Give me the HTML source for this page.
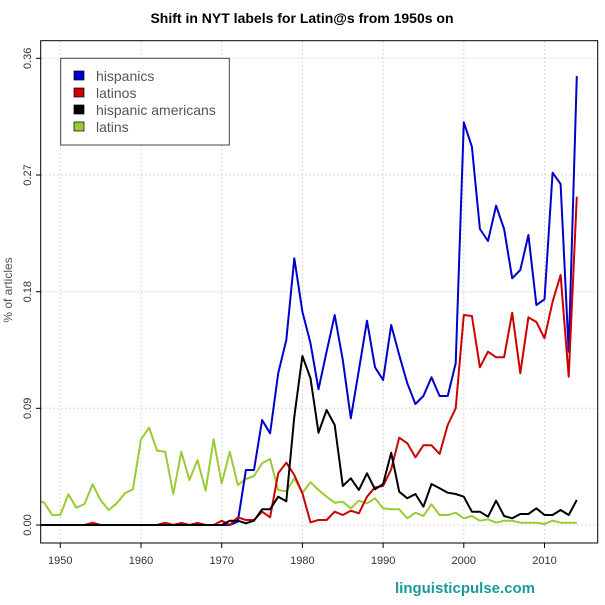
<!DOCTYPE html>
<html><head><meta charset="utf-8"><style>
html,body{margin:0;padding:0;background:#fff;}
svg{display:block;font-family:"Liberation Sans",sans-serif;}
</style></head><body>
<svg id="s" width="605" height="605" viewBox="0 0 605 605">
<rect width="605" height="605" fill="#fff"/>
<text x="302" y="23" text-anchor="middle" font-size="14" font-weight="bold" fill="#000">Shift in NYT labels for Latin@s from 1950s on</text>
<g id="grid" stroke="#d8d8d8" stroke-dasharray="2,2" stroke-width="1"></g>
<defs><clipPath id="c"><rect x="41" y="41" width="556" height="502"/></clipPath></defs>
<g id="lines" clip-path="url(#c)" fill="none" stroke-width="2" stroke-linejoin="round"></g>
<rect x="40.7" y="40.7" width="557" height="502.3" fill="none" stroke="#000" stroke-width="1"/>
<g id="ticks" font-size="11" fill="#333"></g>
<text transform="translate(12,290) rotate(-90)" text-anchor="middle" font-size="12" fill="#555">% of articles</text>
<rect x="60.7" y="58.3" width="168.6" height="86.7" fill="#fff" stroke="#444" stroke-width="1"/>
<rect x="74" y="71" width="10" height="9" fill="#0000cc" stroke="#000" stroke-width="0.7"/>
<rect x="74" y="88" width="10" height="9" fill="#cc0000" stroke="#000" stroke-width="0.7"/>
<rect x="74" y="105" width="10" height="9" fill="#000" stroke="#000" stroke-width="0.7"/>
<rect x="74" y="122" width="10" height="9" fill="#99cc33" stroke="#000" stroke-width="0.7"/>
<g font-size="14" fill="#555">
<text x="96" y="81">hispanics</text>
<text x="96" y="98">latinos</text>
<text x="96" y="115">hispanic americans</text>
<text x="96" y="132">latins</text>
</g>
<text x="465" y="593" text-anchor="middle" font-size="15" font-weight="bold" fill="#1a9a9a">linguisticpulse.com</text>
</svg>
<script>
var ns="http://www.w3.org/2000/svg";
function X(yr){return 221.7+(yr-1970)*8.07;}
function Y(z){return 30+z/3;}
var g=document.getElementById('grid'),t=document.getElementById('ticks'),L=document.getElementById('lines');
function el(p,tag,a,txt){var e=document.createElementNS(ns,tag);for(var k in a)e.setAttribute(k,a[k]);if(txt)e.textContent=txt;p.appendChild(e);return e;}
var yt=[[525,"0.00"],[408.3,"0.09"],[291.7,"0.18"],[175,"0.27"],[58.3,"0.36"]];
yt.forEach(function(v){el(g,'line',{x1:41,x2:597,y1:v[0],y2:v[0]});el(t,'line',{x1:36,x2:40.7,y1:v[0],y2:v[0],stroke:'#000'});
el(t,'text',{transform:'translate(31,'+v[0]+') rotate(-90)','text-anchor':'middle'},v[1]);});
for(var yr=1950;yr<=2010;yr+=10){var x=X(yr);el(g,'line',{x1:x,x2:x,y1:41,y2:543});el(t,'line',{x1:x,x2:x,y1:543,y2:548,stroke:'#000'});el(t,'text',{x:x,y:564,'text-anchor':'middle'},String(yr));}
var Z=1485;
function series(start,arr){var p=[];for(var i=0;i<arr.length;i++)p.push(X(start+i).toFixed(1)+','+Y(arr[i]).toFixed(1));return p;}
function zeros(from,to){var a=[];for(var i=from;i<to;i++)a.push(Z);return a;}
var green=[1408,1418,1455,1455,1393,1433,1422,1363,1410,1440,1420,1390,1378,1228,1193,1262,1265,1392,1265,1350,1290,1382,1228,1360,1265,1365,1347,1338,1300,1287,1380,1384,1345,1388,1357,1380,1400,1418,1415,1435,1412,1420,1405,1435,1438,1438,1465,1448,1458,1423,1455,1455,1448,1465,1458,1472,1468,1478,1472,1472,1478,1478,1478,1482,1472,1478,1478,1478];
var blue=zeros(1946,1972).concat([1475,1320,1320,1170,1210,1030,930,685,845,940,1078,965,855,990,1165,1020,872,1012,1050,885,975,1060,1122,1098,1042,1098,1098,1000,277,350,597,633,527,597,745,720,615,825,808,428,462,965,138]);
var redpre=zeros(1946,1970);redpre[1954-1946]=1478;redpre[1963-1946]=1478;redpre[1965-1946]=1479;redpre[1967-1946]=1479;
var red=redpre.concat([1472,1485,1462,1470,1470,1445,1462,1330,1298,1335,1390,1477,1470,1470,1445,1455,1442,1450,1400,1372,1368,1318,1223,1240,1282,1246,1246,1272,1185,1135,855,858,1012,965,982,982,848,1030,862,876,925,815,735,1040,500]);
var black=zeros(1946,1971).concat([1472,1472,1480,1472,1438,1438,1400,1414,1160,978,1045,1208,1140,1185,1368,1345,1380,1330,1378,1362,1268,1385,1405,1392,1430,1362,1375,1388,1392,1400,1445,1445,1460,1412,1458,1465,1452,1452,1435,1455,1455,1440,1455,1410]);
el(L,'polyline',{points:series(1947,green).join(' '),stroke:'#99cc33'});
el(L,'polyline',{points:series(1946,blue).join(' '),stroke:'#0000cc'});
el(L,'polyline',{points:series(1946,red).join(' '),stroke:'#cc0000'});
el(L,'polyline',{points:series(1946,black).join(' '),stroke:'#000'});
</script>
</body></html>
